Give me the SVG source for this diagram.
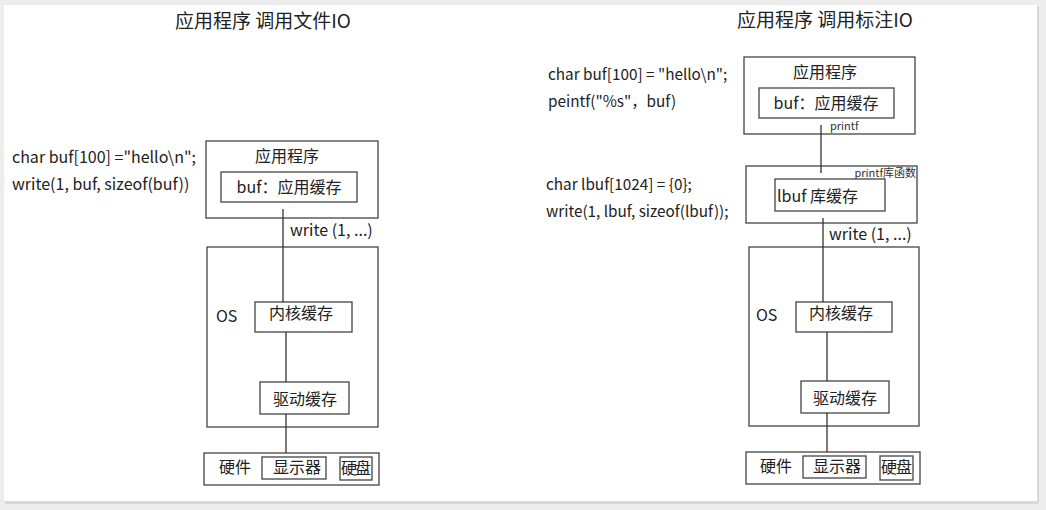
<svg xmlns="http://www.w3.org/2000/svg" width="1046" height="510" viewBox="0 0 1046 510">
<defs>
<style>
text{font-family:"Noto Sans CJK SC","Noto Sans",sans-serif;fill:#222;}
.t{font-size:19px;}
.c{font-size:16px;}
.r{font-size:15.3px;}
.n{font-size:16px;}
.s{font-size:11px;fill:#333;}
.b{fill:#fff;stroke:#444;stroke-width:1.3;}
.l{stroke:#333;stroke-width:1.3;fill:none;}
</style>
</defs>
<rect x="0" y="0" width="1046" height="510" fill="#ededed"/>
<rect x="5" y="6" width="1034" height="498" fill="#d9d9d9"/>
<rect x="4" y="5" width="1033" height="496" fill="#ffffff"/>

<g id="left-title"><text class="t" x="263" y="28" text-anchor="middle">应用程序 调用文件IO</text></g>
<g id="left-code">
<text class="c" x="12" y="163">char buf[100] ="hello\n";</text>
<text class="c" x="12" y="190">write(1, buf, sizeof(buf))</text>
</g>
<g id="left-app">
<rect class="b" x="206" y="141" width="172" height="77"/>
<text class="n" x="287" y="162" text-anchor="middle">应用程序</text>
<rect class="b" x="221" y="172" width="136" height="30"/>
<text class="n" x="289" y="193" text-anchor="middle">buf：应用缓存</text>
</g>
<g id="left-os">
<rect class="b" x="207" y="247" width="171" height="180"/>
<text class="n" x="216" y="322">OS</text>
</g>
<g id="left-kernel">
<rect class="b" x="255" y="302" width="97" height="30"/>
<text class="n" x="269" y="319">内核缓存</text>
</g>
<g id="left-driver">
<rect class="b" x="260" y="382" width="89" height="32"/>
<text class="n" x="273" y="405">驱动缓存</text>
</g>
<g id="left-hw">
<rect class="b" x="204" y="453" width="175" height="32"/>
<text class="n" x="219" y="473">硬件</text>
<rect class="b" x="262" y="457" width="64" height="22"/>
<text class="n" x="273" y="473">显示器</text>
<rect class="b" x="340" y="457" width="32" height="23"/>
<text class="n" x="341" y="474" textLength="30">硬盘</text>
</g>

<g id="right-title"><text class="t" x="825" y="27" text-anchor="middle">应用程序 调用标注IO</text></g>
<g id="right-code">
<text class="r" x="548" y="80">char buf[100] = "hello\n";</text>
<text class="r" x="548" y="107">peintf("%s"，buf)</text>
<text class="r" x="546" y="190">char lbuf[1024] = {0};</text>
<text class="r" x="546" y="217">write(1, lbuf, sizeof(lbuf));</text>
</g>
<g id="right-app">
<rect class="b" x="744" y="57" width="171" height="77"/>
<text class="n" x="825" y="78" text-anchor="middle">应用程序</text>
<rect class="b" x="759" y="88" width="135" height="30"/>
<text class="n" x="826" y="109" text-anchor="middle">buf：应用缓存</text>
</g>
<g id="right-lib">
<rect class="b" x="746" y="166" width="171" height="57"/>
<text class="s" x="916" y="177" text-anchor="end">printf库函数</text>
<rect class="b" x="775" y="179" width="110" height="32"/>
<text class="n" x="777" y="202">lbuf 库缓存</text>
</g>
<g id="right-os">
<rect class="b" x="749" y="247" width="170" height="179"/>
<text class="n" x="756" y="321">OS</text>
</g>
<g id="right-kernel">
<rect class="b" x="796" y="302" width="96" height="30"/>
<text class="n" x="809" y="319">内核缓存</text>
</g>
<g id="right-driver">
<rect class="b" x="801" y="381" width="88" height="32"/>
<text class="n" x="813" y="404">驱动缓存</text>
</g>
<g id="right-hw">
<rect class="b" x="746" y="452" width="174" height="32"/>
<text class="n" x="760" y="472">硬件</text>
<rect class="b" x="803" y="456" width="63" height="22"/>
<text class="n" x="813" y="472">显示器</text>
<rect class="b" x="880" y="456" width="33" height="24"/>
<text class="n" x="881" y="473" textLength="31">硬盘</text>
</g>

<g id="connectors">
<line class="l" x1="283" y1="209" x2="283" y2="302"/>
<line class="l" x1="286" y1="332" x2="286" y2="382"/>
<line class="l" x1="286" y1="414" x2="286" y2="453"/>
<line class="l" x1="821" y1="125" x2="821" y2="173"/>
<line class="l" x1="823" y1="218" x2="823" y2="302"/>
<line class="l" x1="827" y1="332" x2="827" y2="381"/>
<line class="l" x1="827" y1="413" x2="827" y2="452"/>
<text class="n" x="290" y="236">write (1, ...)</text>
<text class="s" x="830" y="130">printf</text>
<text class="n" x="829" y="240">write (1, ...)</text>
</g>
</svg>
